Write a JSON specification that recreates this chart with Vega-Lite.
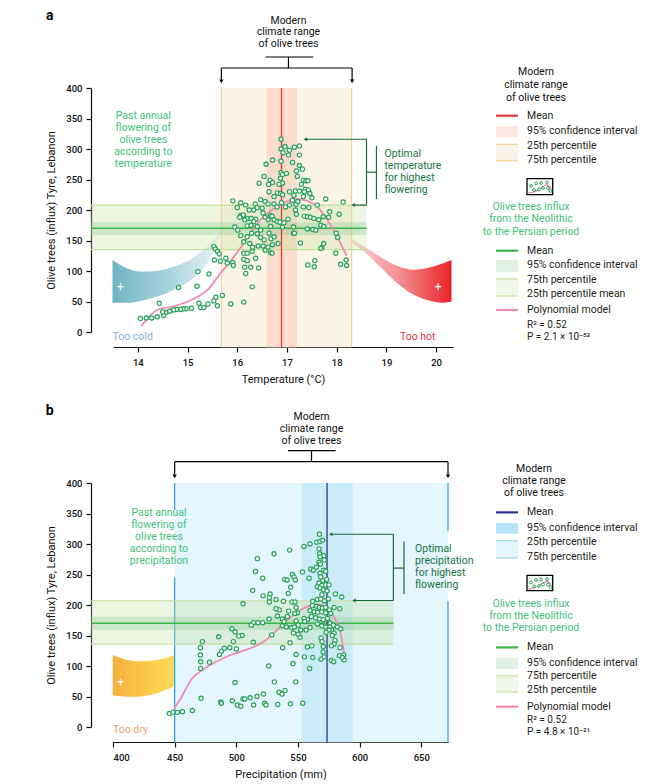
{
"$schema":"https://vega.github.io/schema/vega-lite/v6.json",
"padding":{"left":45,"top":8,"right":0,"bottom":0},
"background":"white",
"datasets":{
"ptsA":[{"x":16.88,"y":316},{"x":16.96,"y":304},{"x":16.88,"y":300},{"x":17.05,"y":298},{"x":17.15,"y":303},{"x":17.25,"y":305},{"x":16.92,"y":294},{"x":17.03,"y":290},{"x":17.25,"y":290},{"x":16.71,"y":282},{"x":16.58,"y":275},{"x":17.11,"y":278},{"x":16.88,"y":280},{"x":17.25,"y":273},{"x":17.31,"y":267},{"x":16.88,"y":261},{"x":16.91,"y":258},{"x":16.99,"y":260},{"x":17.19,"y":264},{"x":16.54,"y":255},{"x":16.66,"y":249},{"x":16.71,"y":245},{"x":16.63,"y":242},{"x":16.44,"y":244},{"x":16.87,"y":252},{"x":16.91,"y":244},{"x":16.84,"y":242},{"x":17.21,"y":255},{"x":17.33,"y":249},{"x":17.38,"y":248},{"x":17.42,"y":248},{"x":17.29,"y":242},{"x":17.37,"y":234},{"x":17.43,"y":233},{"x":17.35,"y":230},{"x":17.17,"y":231},{"x":17.25,"y":231},{"x":17.05,"y":230},{"x":16.64,"y":230},{"x":16.81,"y":228},{"x":16.74,"y":222},{"x":16.87,"y":227},{"x":16.91,"y":225},{"x":17.46,"y":227},{"x":17.5,"y":220},{"x":17.33,"y":222},{"x":17.14,"y":224},
{"x":15.91,"y":215},{"x":16.07,"y":212},{"x":16.0,"y":204},{"x":16.17,"y":208},{"x":16.24,"y":200},{"x":16.36,"y":210},{"x":16.47,"y":217},{"x":16.56,"y":214},{"x":16.62,"y":210},{"x":16.4,"y":204},{"x":16.33,"y":200},{"x":16.5,"y":203},{"x":16.74,"y":210},{"x":16.8,"y":205},{"x":16.89,"y":212},{"x":16.97,"y":205},{"x":17.05,"y":208},{"x":17.18,"y":209},{"x":17.11,"y":216},{"x":17.22,"y":214},{"x":17.33,"y":205},{"x":17.44,"y":204},{"x":17.61,"y":208},{"x":17.78,"y":218},{"x":18.13,"y":213},{"x":17.86,"y":197},{"x":18.05,"y":193},{"x":17.17,"y":200},{"x":17.19,"y":193},
{"x":16.07,"y":191},{"x":16.12,"y":192},{"x":16.05,"y":188},{"x":16.2,"y":186},{"x":16.15,"y":184},{"x":16.28,"y":186},{"x":16.37,"y":185},{"x":16.52,"y":195},{"x":16.56,"y":188},{"x":16.62,"y":184},{"x":16.67,"y":191},{"x":16.7,"y":190},{"x":16.74,"y":184},{"x":16.81,"y":181},{"x":16.86,"y":180},{"x":16.94,"y":179},{"x":17.02,"y":185},{"x":17.35,"y":190},{"x":17.41,"y":189},{"x":17.47,"y":188},{"x":17.54,"y":186},{"x":17.64,"y":184},{"x":17.73,"y":189},{"x":17.84,"y":188},{"x":17.68,"y":175},{"x":17.74,"y":173},{"x":17.52,"y":168},{"x":17.41,"y":169},{"x":17.13,"y":172},{"x":16.91,"y":172},{"x":16.67,"y":173},{"x":16.47,"y":167},{"x":16.4,"y":173},{"x":16.2,"y":174},{"x":15.95,"y":172},{"x":16.01,"y":167},{"x":16.33,"y":181},{"x":16.28,"y":175},
{"x":16.07,"y":158},{"x":16.2,"y":156},{"x":16.29,"y":162},{"x":16.4,"y":161},{"x":16.47,"y":155},{"x":16.54,"y":151},{"x":16.64,"y":162},{"x":16.68,"y":153},{"x":16.74,"y":156},{"x":16.82,"y":145},{"x":16.42,"y":141},{"x":16.52,"y":141},{"x":16.62,"y":139},{"x":16.71,"y":143},{"x":16.13,"y":148},{"x":16.25,"y":145},{"x":16.31,"y":139},{"x":17.13,"y":162},{"x":17.15,"y":162},{"x":17.27,"y":146},{"x":17.58,"y":167},{"x":17.74,"y":145},{"x":17.7,"y":138},{"x":17.68,"y":137},{"x":17.99,"y":162},{"x":18.02,"y":155},{"x":16.67,"y":130},{"x":16.7,"y":129},{"x":16.56,"y":134},{"x":16.3,"y":132},{"x":16.13,"y":129},{"x":16.2,"y":129},
{"x":15.53,"y":140},{"x":15.56,"y":136},{"x":15.6,"y":132},{"x":15.64,"y":128},{"x":15.54,"y":118},{"x":15.66,"y":116},{"x":15.77,"y":121},{"x":15.8,"y":113},{"x":15.91,"y":114},{"x":15.92,"y":109},{"x":16.13,"y":119},{"x":16.2,"y":117},{"x":16.15,"y":106},{"x":16.27,"y":106},{"x":16.37,"y":121},{"x":16.43,"y":105},{"x":16.17,"y":96},{"x":17.42,"y":110},{"x":17.56,"y":117},{"x":17.55,"y":107},{"x":17.98,"y":129},{"x":18.08,"y":111},{"x":18.19,"y":118},{"x":18.2,"y":109},
{"x":15.21,"y":99},{"x":15.43,"y":95},{"x":14.82,"y":73},{"x":15.19,"y":75},{"x":16.3,"y":74},{"x":15.7,"y":60},{"x":15.57,"y":57},{"x":15.53,"y":51},{"x":15.6,"y":43},{"x":15.87,"y":46},{"x":16.13,"y":49},{"x":15.41,"y":46},{"x":15.23,"y":47},{"x":15.26,"y":40},{"x":15.33,"y":40},{"x":15.08,"y":39},{"x":14.97,"y":38},{"x":14.91,"y":38},{"x":14.86,"y":37},{"x":14.78,"y":37},{"x":14.72,"y":36},{"x":14.64,"y":34},{"x":14.56,"y":32},{"x":14.52,"y":27},{"x":14.5,"y":33},{"x":14.43,"y":47},{"x":14.39,"y":25},{"x":14.28,"y":23},{"x":14.17,"y":23},{"x":14.05,"y":22}],
"curveA":[{"x":14.07,"y":10},{"x":14.39,"y":36},{"x":14.72,"y":42},{"x":15.06,"y":52},{"x":15.4,"y":69},{"x":15.66,"y":96},{"x":15.93,"y":123},{"x":16.2,"y":154},{"x":16.47,"y":184},{"x":16.74,"y":203},{"x":17.0,"y":214},{"x":17.2,"y":218},{"x":17.41,"y":215},{"x":17.61,"y":205},{"x":17.81,"y":184},{"x":18.01,"y":156},{"x":18.2,"y":125}],
"ptsB":[{"x":567.4,"y":316},{"x":565.2,"y":303},{"x":567.9,"y":304},{"x":570.1,"y":306},{"x":559.8,"y":300},{"x":555.0,"y":296},{"x":530.6,"y":284},{"x":543.3,"y":290},{"x":567.1,"y":292},{"x":567.6,"y":284},{"x":570.9,"y":281},{"x":567.9,"y":279},{"x":571.4,"y":274},{"x":567.1,"y":270},{"x":568.2,"y":267},{"x":564.9,"y":262},{"x":560.4,"y":259},{"x":562.5,"y":257},{"x":570.9,"y":257},{"x":567.9,"y":252},{"x":572.5,"y":255},{"x":568.5,"y":246},{"x":573.3,"y":242},{"x":570.1,"y":240},{"x":567.1,"y":236},{"x":569.3,"y":232},{"x":572.5,"y":233},{"x":575.2,"y":233},{"x":565.8,"y":230},{"x":567.9,"y":228},{"x":570.6,"y":225},{"x":573.6,"y":223},{"x":569.5,"y":217},{"x":580.4,"y":218},{"x":585.5,"y":213},{"x":517.1,"y":276},{"x":515.5,"y":255},{"x":521.4,"y":244},{"x":539.3,"y":242},{"x":541.2,"y":241},{"x":545.5,"y":250},{"x":546.8,"y":246},{"x":547.9,"y":241},{"x":553.6,"y":254},{"x":559.0,"y":244},{"x":544.1,"y":229},{"x":542.2,"y":219},{"x":513.3,"y":224},{"x":521.7,"y":215},{"x":527.4,"y":218},{"x":526.8,"y":212},{"x":532.2,"y":209},{"x":538.2,"y":206},{"x":545.2,"y":205},{"x":547.6,"y":205},{"x":526.8,"y":205},{"x":505.5,"y":202},
{"x":562.0,"y":206},{"x":565.8,"y":209},{"x":568.5,"y":210},{"x":571.4,"y":207},{"x":574.7,"y":210},{"x":561.7,"y":199},{"x":565.2,"y":198},{"x":567.4,"y":196},{"x":569.8,"y":195},{"x":572.5,"y":196},{"x":575.5,"y":192},{"x":579.3,"y":196},{"x":583.9,"y":194},{"x":559.8,"y":191},{"x":563.1,"y":189},{"x":566.0,"y":188},{"x":569.3,"y":189},{"x":572.5,"y":187},{"x":576.6,"y":186},{"x":560.9,"y":181},{"x":564.4,"y":179},{"x":567.4,"y":177},{"x":570.6,"y":176},{"x":573.9,"y":178},{"x":576.0,"y":170},{"x":578.7,"y":167},{"x":582.0,"y":164},{"x":584.7,"y":161},{"x":565.8,"y":169},{"x":569.3,"y":166},{"x":572.5,"y":164},{"x":557.7,"y":176},{"x":555.0,"y":178},{"x":549.5,"y":187},{"x":548.5,"y":196},{"x":547.4,"y":186},{"x":542.5,"y":190},{"x":541.4,"y":181},{"x":537.4,"y":177},{"x":538.7,"y":173},{"x":534.9,"y":192},{"x":532.2,"y":194},{"x":533.3,"y":182},{"x":537.4,"y":166},{"x":540.6,"y":164},{"x":526.6,"y":177},{"x":521.4,"y":171},{"x":513.9,"y":171},{"x":512.2,"y":167},{"x":517.6,"y":171},{"x":548.5,"y":174},{"x":550.1,"y":167},{"x":552.2,"y":159},{"x":544.9,"y":163},{"x":547.1,"y":164},{"x":555.5,"y":173},{"x":546.3,"y":154},{"x":551.7,"y":147},{"x":550.1,"y":152},{"x":556.6,"y":159},{"x":559.8,"y":163},{"x":575.8,"y":164},{"x":577.4,"y":159},{"x":579.3,"y":154},{"x":577.9,"y":150},{"x":580.1,"y":142},{"x":579.3,"y":136},{"x":584.1,"y":130},{"x":577.1,"y":133},{"x":575.2,"y":159},{"x":572.8,"y":155},
{"x":528.7,"y":151},{"x":504.7,"y":150},{"x":502.0,"y":149},{"x":499.0,"y":156},{"x":496.3,"y":161},{"x":485.7,"y":148},{"x":472.5,"y":140},{"x":470.9,"y":130},{"x":470.9,"y":118},{"x":471.1,"y":107},{"x":471.1,"y":96},{"x":478.2,"y":106},{"x":487.9,"y":124},{"x":486.3,"y":119},{"x":490.3,"y":129},{"x":494.7,"y":130},{"x":497.6,"y":140},{"x":500.1,"y":128},{"x":513.9,"y":139},{"x":537.6,"y":130},{"x":543.6,"y":138},{"x":548.5,"y":119},{"x":546.0,"y":104},{"x":555.2,"y":115},{"x":557.7,"y":131},{"x":561.2,"y":133},{"x":562.0,"y":114},{"x":559.5,"y":96},{"x":568.7,"y":146},{"x":569.5,"y":140},{"x":570.6,"y":132},{"x":570.4,"y":123},{"x":568.7,"y":111},{"x":571.2,"y":115},{"x":577.1,"y":109},{"x":579.0,"y":107},{"x":583.6,"y":117},{"x":587.1,"y":118},{"x":587.4,"y":110},{"x":586.0,"y":114},{"x":526.3,"y":100},
{"x":499.0,"y":73},{"x":530.9,"y":74},{"x":548.2,"y":74},{"x":471.4,"y":47},{"x":487.4,"y":41},{"x":487.9,"y":39},{"x":496.8,"y":43},{"x":500.9,"y":36},{"x":503.6,"y":34},{"x":505.5,"y":46},{"x":506.8,"y":46},{"x":511.2,"y":48},{"x":514.1,"y":36},{"x":516.8,"y":50},{"x":522.0,"y":54},{"x":523.0,"y":39},{"x":524.1,"y":36},{"x":533.6,"y":37},{"x":534.7,"y":57},{"x":537.1,"y":54},{"x":539.5,"y":60},{"x":543.9,"y":38},{"x":553.9,"y":39},{"x":445.7,"y":22},{"x":448.7,"y":24},{"x":452.2,"y":24},{"x":456.3,"y":25},{"x":464.4,"y":27}],
"curveB":[{"x":446,"y":18},{"x":455,"y":47},{"x":464,"y":79},{"x":472,"y":93},{"x":481,"y":104},{"x":493,"y":116},{"x":504,"y":124},{"x":515,"y":132},{"x":525,"y":144},{"x":536,"y":165},{"x":546,"y":183},{"x":555,"y":195},{"x":562,"y":200},{"x":568,"y":201},{"x":573,"y":195},{"x":577,"y":186},{"x":581,"y":174},{"x":585,"y":150},{"x":587.5,"y":120}]
},
"vconcat":[
{"hconcat":[
{"width":340,"height":244,
"encoding":{
"x":{"field":"x","type":"quantitative","scale":{"domain":[13.5,20.34],"nice":false,"zero":false},"axis":{"values":[14,15,16,17,18,19,20],"format":"d","offset":15,"title":"Temperature (°C)","labelPadding":5,"titlePadding":7}},
"y":{"field":"y","type":"quantitative","scale":{"domain":[0,400],"nice":false,"zero":false},"axis":{"values":[0,50,100,150,200,250,300,350,400],"format":"d","offset":22,"title":"Olive trees (influx) Tyre, Lebanon","labelPadding":4,"titlePadding":9}}},
"layer":[
{"data":{"values":[{"x":13.49,"y":118,"y2":48},{"x":13.79,"y":104,"y2":48},{"x":14.05,"y":99,"y2":51},{"x":14.39,"y":100.5,"y2":58},{"x":14.72,"y":107,"y2":69},{"x":15.06,"y":119,"y2":85},{"x":15.4,"y":140,"y2":113},{"x":15.68,"y":166,"y2":165}]},
"mark":{"type":"area","interpolate":"monotone","color":{"gradient":"linear","x1":0,"y1":0,"x2":1,"y2":0,"stops":[{"offset":0,"color":"#6fb5c4"},{"offset":0.5,"color":"#a6d2db"},{"offset":1,"color":"#ebf5f7"}]}},
"encoding":{"y2":{"field":"y2"}}},
{"data":{"values":[{"x":18.05,"y":162,"y2":160},{"x":18.15,"y":159,"y2":154},{"x":18.55,"y":140,"y2":132},{"x":18.88,"y":123,"y2":106},{"x":19.22,"y":108,"y2":80},{"x":19.55,"y":102,"y2":61},{"x":19.89,"y":106,"y2":51},{"x":20.16,"y":113,"y2":48},{"x":20.31,"y":118,"y2":50}]},
"mark":{"type":"area","interpolate":"monotone","color":{"gradient":"linear","x1":0,"y1":0,"x2":1,"y2":0,"stops":[{"offset":0,"color":"#fdeaea"},{"offset":0.55,"color":"#f28b8e"},{"offset":1,"color":"#e8232a"}]}},
"encoding":{"y2":{"field":"y2"}}},
{"data":{"values":[{"x":13.65,"y":73,"t":"+"},{"x":20.04,"y":73,"t":"+"}]},"mark":{"type":"text","color":"#ffffff","fontSize":12,"baseline":"middle"},"encoding":{"text":{"field":"t"}}},
{"data":{"values":[{"x":15.68,"x2":18.3,"y":-25,"y2":400}]},"mark":{"type":"rect","color":"#fdf4e8"},"encoding":{"x2":{"field":"x2"},"y2":{"field":"y2"}}},
{"data":{"values":[{"x":16.59,"x2":17.2,"y":-25,"y2":400}]},"mark":{"type":"rect","color":"#f9dccb"},"encoding":{"x2":{"field":"x2"},"y2":{"field":"y2"}}},
{"data":{"values":[{"x":15.68,"y":-25,"y2":400},{"x":18.3,"y":-25,"y2":400}]},"mark":{"type":"rule","color":"#f6d29b","strokeWidth":1.2},"encoding":{"y2":{"field":"y2"}}},
{"data":{"values":[{"x":13.057,"x2":18.6,"y":135,"y2":208}]},"mark":{"type":"rect","color":"#c3dd9a","opacity":0.3},"encoding":{"x2":{"field":"x2"},"y2":{"field":"y2"}}},
{"data":{"values":[{"x":13.057,"x2":18.6,"y":159,"y2":180}]},"mark":{"type":"rect","color":"#8fcb9a","opacity":0.35},"encoding":{"x2":{"field":"x2"},"y2":{"field":"y2"}}},
{"data":{"values":[{"x":13.057,"x2":18.6,"y":135},{"x":13.057,"x2":18.6,"y":208}]},"mark":{"type":"rule","color":"#c3df9c","strokeWidth":1.2},"encoding":{"x2":{"field":"x2"}}},
{"data":{"values":[{"x":13.057,"x2":18.6,"y":170}]},"mark":{"type":"rule","color":"#3db54a","strokeWidth":1.5},"encoding":{"x2":{"field":"x2"}}},
{"data":{"values":[{"x":16.89,"y":-25,"y2":400}]},"mark":{"type":"rule","color":"#e53a35","strokeWidth":1.3},"encoding":{"y2":{"field":"y2"}}},
{"data":{"name":"curveA"},"mark":{"type":"line","interpolate":"monotone","color":"#f08ab3","strokeWidth":1.8}},
{"data":{"name":"ptsA"},"mark":{"type":"point","shape":"circle","fill":"#ffffff","stroke":"#27a35a","strokeWidth":1.2,"size":18,"opacity":1}},
{"data":{"values":[{"x":14.11,"y":354,"t":"Past annual\nflowering of\nolive trees\naccording to\ntemperature"}]},"mark":{"type":"text","align":"center","baseline":"middle","lineBreak":"\n","lineHeight":12,"fontSize":10.5,"color":"#3fbf7d"},"encoding":{"text":{"field":"t"}}},
{"data":{"values":[{"x":18.96,"y":291.3,"t":"Optimal\ntemperature\nfor highest\nflowering"}]},"mark":{"type":"text","align":"left","baseline":"middle","lineBreak":"\n","lineHeight":12,"fontSize":10.5,"color":"#17733f"},"encoding":{"text":{"field":"t"}}},
{"data":{"values":[{"x":13.49,"y":-8,"t":"Too cold"}]},"mark":{"type":"text","align":"left","baseline":"middle","fontSize":10.5,"color":"#7fb0e3"},"encoding":{"text":{"field":"t"}}},
{"data":{"values":[{"x":19.63,"y":-8,"t":"Too hot"}]},"mark":{"type":"text","align":"center","baseline":"middle","fontSize":10.5,"color":"#ec3040"},"encoding":{"text":{"field":"t"}}},
{"data":{"values":[{"x":17.03,"y":510.3,"t":"Modern\nclimate range\nof olive trees"}]},"mark":{"type":"text","align":"center","baseline":"middle","lineBreak":"\n","lineHeight":11.7,"fontSize":10.5,"color":"#111111"},"encoding":{"text":{"field":"t"}}},
{"data":{"values":[{"x":12.15,"y":512,"t":"a"}]},"mark":{"type":"text","align":"left","baseline":"alphabetic","fontSize":14,"fontWeight":"bold","color":"#000000"},"encoding":{"text":{"field":"t"}}},
{"data":{"values":[{"x":15.68,"x2":18.31,"y":432.8},{"x":16.57,"x2":17.53,"y":450.8}]},"mark":{"type":"rule","color":"#000000","strokeWidth":1.2},"encoding":{"x2":{"field":"x2"}}},
{"data":{"values":[{"x":15.68,"y":432.8,"y2":413},{"x":18.31,"y":432.8,"y2":413},{"x":17.03,"y":450.8,"y2":432.8}]},"mark":{"type":"rule","color":"#000000","strokeWidth":1.2},"encoding":{"y2":{"field":"y2"}}},
{"data":{"values":[{"x":15.68,"y":411},{"x":18.31,"y":411}]},"mark":{"type":"point","shape":"triangle-down","filled":true,"color":"#000000","size":18,"opacity":1}},
{"data":{"values":[{"x":18.6,"x2":18.8,"y":262},{"x":17.4,"x2":18.6,"y":316},{"x":18.36,"x2":18.6,"y":208}]},"mark":{"type":"rule","color":"#17693a","strokeWidth":1.2},"encoding":{"x2":{"field":"x2"}}},
{"data":{"values":[{"x":18.8,"y":305,"y2":218},{"x":18.6,"y":316,"y2":208}]},"mark":{"type":"rule","color":"#17693a","strokeWidth":1.2},"encoding":{"y2":{"field":"y2"}}},
{"data":{"values":[{"x":17.37,"y":316},{"x":18.33,"y":208}]},"mark":{"type":"point","shape":"triangle-left","filled":true,"color":"#17693a","size":16,"opacity":1}}
]},
{"width":150,"height":244,
"encoding":{"x":{"field":"x","type":"quantitative","scale":{"domain":[0,150],"nice":false,"zero":false},"axis":null},"y":{"field":"y","type":"quantitative","scale":{"domain":[0,244],"reverse":true,"nice":false,"zero":false},"axis":null}},
"layer":[
{"data":{"values":[{"x":0,"x2":22,"y":38,"y2":49.3}]},"mark":{"type":"rect","color":"#fbe6e1"},"encoding":{"x2":{"field":"x2"},"y2":{"field":"y2"}}},
{"data":{"values":[{"x":0,"x2":22,"y":56.3,"y2":72.7}]},"mark":{"type":"rect","color":"#fdf4e8"},"encoding":{"x2":{"field":"x2"},"y2":{"field":"y2"}}},
{"data":{"values":[{"x":0,"x2":22,"y":56.3},{"x":0,"x2":22,"y":72.7}]},"mark":{"type":"rule","color":"#f6d29b","strokeWidth":1.2},"encoding":{"x2":{"field":"x2"}}},
{"data":{"values":[{"x":0,"x2":22,"y":27.7}]},"mark":{"type":"rule","color":"#e53a35","strokeWidth":2.2},"encoding":{"x2":{"field":"x2"}}},
{"data":{"values":[{"x":0,"x2":22,"y":172,"y2":184.3}]},"mark":{"type":"rect","color":"#e2f1e5"},"encoding":{"x2":{"field":"x2"},"y2":{"field":"y2"}}},
{"data":{"values":[{"x":0,"x2":22,"y":191,"y2":208}]},"mark":{"type":"rect","color":"#f1f7e8"},"encoding":{"x2":{"field":"x2"},"y2":{"field":"y2"}}},
{"data":{"values":[{"x":0,"x2":22,"y":191},{"x":0,"x2":22,"y":208}]},"mark":{"type":"rule","color":"#c8e2a2","strokeWidth":1.2},"encoding":{"x2":{"field":"x2"}}},
{"data":{"values":[{"x":0,"x2":22,"y":162.7}]},"mark":{"type":"rule","color":"#3db54a","strokeWidth":2.2},"encoding":{"x2":{"field":"x2"}}},
{"data":{"values":[{"x":0,"x2":22,"y":222}]},"mark":{"type":"rule","color":"#f08ab3","strokeWidth":2.2},"encoding":{"x2":{"field":"x2"}}},
{"data":{"values":[{"x":31,"x2":56.7,"y":90.7,"y2":106.7}]},"mark":{"type":"rect","fill":"#ffffff","stroke":"#000000","strokeWidth":1.3},"encoding":{"x2":{"field":"x2"},"y2":{"field":"y2"}}},
{"data":{"values":[{"x":32.5,"y":105},{"x":38,"y":104},{"x":43,"y":101},{"x":48,"y":98},{"x":51,"y":97},{"x":54,"y":99},{"x":55.5,"y":103}]},"mark":{"type":"line","interpolate":"monotone","color":"#f08ab3","strokeWidth":1.3}},
{"data":{"values":[{"x":35,"y":98},{"x":40,"y":95.5},{"x":45,"y":95},{"x":51,"y":94.5},{"x":38,"y":102},{"x":43,"y":101.5},{"x":47,"y":100},{"x":52,"y":100},{"x":54.5,"y":103}]},"mark":{"type":"point","shape":"circle","fill":"#ffffff","stroke":"#27a35a","strokeWidth":1,"size":8,"opacity":1}},
{"data":{"values":[{"x":31,"y":27.7,"t":"Mean"},{"x":31,"y":43.3,"t":"95% confidence interval"},{"x":31,"y":57.7,"t":"25th percentile"},{"x":31,"y":72,"t":"75th percentile"},{"x":31,"y":162.7,"t":"Mean"},{"x":31,"y":177,"t":"95% confidence interval"},{"x":31,"y":191.7,"t":"75th percentile"},{"x":31,"y":206.3,"t":"25th percentile mean"},{"x":31,"y":222,"t":"Polynomial model"}]},"mark":{"type":"text","align":"left","baseline":"middle","fontSize":10.5,"color":"#231f20"},"encoding":{"text":{"field":"t"}}},
{"data":{"values":[{"x":31,"y":236.5,"t":"R² = 0.52"},{"x":31,"y":248.5,"t":"P = 2.1 × 10⁻⁵²"}]},"mark":{"type":"text","align":"left","baseline":"middle","fontSize":10,"color":"#231f20"},"encoding":{"text":{"field":"t"}}},
{"data":{"values":[{"x":40,"y":-16.3,"t":"Modern\nclimate range\nof olive trees"}]},"mark":{"type":"text","align":"center","baseline":"middle","lineBreak":"\n","lineHeight":13,"fontSize":10.5,"color":"#111111"},"encoding":{"text":{"field":"t"}}},
{"data":{"values":[{"x":35,"y":118.7,"t":"Olive trees influx\nfrom the Neolithic\nto the Persian period"}]},"mark":{"type":"text","align":"center","baseline":"middle","lineBreak":"\n","lineHeight":12.5,"fontSize":10.5,"color":"#3fbf7d"},"encoding":{"text":{"field":"t"}}}
]}
],"spacing":43,"bounds":"flush"},
{"hconcat":[
{"width":335,"height":244,
"encoding":{
"x":{"field":"x","type":"quantitative","scale":{"domain":[400,671.7],"nice":false,"zero":false},"axis":{"values":[400,450,500,550,600,650],"format":"d","offset":15,"title":"Precipitation (mm)","labelPadding":5,"titlePadding":7}},
"y":{"field":"y","type":"quantitative","scale":{"domain":[0,400],"nice":false,"zero":false},"axis":{"values":[0,50,100,150,200,250,300,350,400],"format":"d","offset":22,"title":"Olive trees (influx) Tyre, Lebanon","labelPadding":4,"titlePadding":9}}},
"layer":[
{"data":{"values":[{"x":399.8,"y":118,"y2":52},{"x":411.7,"y":110,"y2":49.6},{"x":422.5,"y":107.6,"y2":50},{"x":436,"y":110,"y2":55.6},{"x":449.5,"y":118,"y2":66.6},{"x":463,"y":132,"y2":83},{"x":476.6,"y":148,"y2":110},{"x":488.7,"y":170,"y2":168}]},
"mark":{"type":"area","interpolate":"monotone","color":{"gradient":"linear","x1":0,"y1":0,"x2":1,"y2":0,"stops":[{"offset":0,"color":"#f4b040"},{"offset":0.45,"color":"#fdd44e"},{"offset":1,"color":"#fbeec0"}]}},
"encoding":{"y2":{"field":"y2"}}},
{"data":{"values":[{"x":406.2,"y":73,"t":"+"}]},"mark":{"type":"text","color":"#ffffff","fontSize":12,"baseline":"middle"},"encoding":{"text":{"field":"t"}}},
{"data":{"values":[{"x":450,"x2":671.7,"y":-25,"y2":400}]},"mark":{"type":"rect","color":"#e4f5fd"},"encoding":{"x2":{"field":"x2"},"y2":{"field":"y2"}}},
{"data":{"values":[{"x":553.1,"x2":594.4,"y":-25,"y2":400}]},"mark":{"type":"rect","color":"#caecf9"},"encoding":{"x2":{"field":"x2"},"y2":{"field":"y2"}}},
{"data":{"values":[{"x":450,"y":400,"y2":356},{"x":450,"y":245,"y2":-25},{"x":671.7,"y":400,"y2":321},{"x":671.7,"y":206,"y2":-25}]},"mark":{"type":"rule","color":"#27aae1","strokeWidth":1.3},"encoding":{"y2":{"field":"y2"}}},
{"data":{"values":[{"x":382.2,"x2":627.4,"y":136,"y2":207}]},"mark":{"type":"rect","color":"#c3dd9a","opacity":0.3},"encoding":{"x2":{"field":"x2"},"y2":{"field":"y2"}}},
{"data":{"values":[{"x":382.2,"x2":627.4,"y":159,"y2":180.6}]},"mark":{"type":"rect","color":"#8fcb9a","opacity":0.35},"encoding":{"x2":{"field":"x2"},"y2":{"field":"y2"}}},
{"data":{"values":[{"x":382.2,"x2":627.4,"y":136},{"x":382.2,"x2":627.4,"y":207}]},"mark":{"type":"rule","color":"#c3df9c","strokeWidth":1.2},"encoding":{"x2":{"field":"x2"}}},
{"data":{"values":[{"x":382.2,"x2":627.4,"y":170}]},"mark":{"type":"rule","color":"#3db54a","strokeWidth":1.5},"encoding":{"x2":{"field":"x2"}}},
{"data":{"values":[{"x":573.6,"y":-25,"y2":400}]},"mark":{"type":"rule","color":"#2e3192","strokeWidth":1.3},"encoding":{"y2":{"field":"y2"}}},
{"data":{"name":"curveB"},"mark":{"type":"line","interpolate":"monotone","color":"#f08ab3","strokeWidth":1.8}},
{"data":{"name":"ptsB"},"mark":{"type":"point","shape":"circle","fill":"#ffffff","stroke":"#27a35a","strokeWidth":1.2,"size":18,"opacity":1}},
{"data":{"values":[{"x":437.3,"y":350.9,"t":"Past annual\nflowering of\nolive trees\naccording to\nprecipitation"}]},"mark":{"type":"text","align":"center","baseline":"middle","lineBreak":"\n","lineHeight":12,"fontSize":10.5,"color":"#3fbf7d"},"encoding":{"text":{"field":"t"}}},
{"data":{"values":[{"x":645,"y":292.3,"t":"Optimal\nprecipitation\nfor highest\nflowering"}]},"mark":{"type":"text","align":"left","baseline":"middle","lineBreak":"\n","lineHeight":12,"fontSize":10.5,"color":"#17733f"},"encoding":{"text":{"field":"t"}}},
{"data":{"values":[{"x":400,"y":-5,"t":"Too dry"}]},"mark":{"type":"text","align":"left","baseline":"middle","fontSize":10.5,"color":"#f5a07c"},"encoding":{"text":{"field":"t"}}},
{"data":{"values":[{"x":561,"y":508.5,"t":"Modern\nclimate range\nof olive trees"}]},"mark":{"type":"text","align":"center","baseline":"middle","lineBreak":"\n","lineHeight":12,"fontSize":10.5,"color":"#111111"},"encoding":{"text":{"field":"t"}}},
{"data":{"values":[{"x":345.4,"y":510.7,"t":"b"}]},"mark":{"type":"text","align":"left","baseline":"alphabetic","fontSize":14,"fontWeight":"bold","color":"#000000"},"encoding":{"text":{"field":"t"}}},
{"data":{"values":[{"x":450,"x2":671.7,"y":435},{"x":541.9,"x2":580.4,"y":453}]},"mark":{"type":"rule","color":"#000000","strokeWidth":1.2},"encoding":{"x2":{"field":"x2"}}},
{"data":{"values":[{"x":450,"y":435,"y2":414},{"x":671.7,"y":435,"y2":414},{"x":561,"y":453,"y2":435}]},"mark":{"type":"rule","color":"#000000","strokeWidth":1.2},"encoding":{"y2":{"field":"y2"}}},
{"data":{"values":[{"x":450,"y":411},{"x":671.7,"y":411}]},"mark":{"type":"point","shape":"triangle-down","filled":true,"color":"#000000","size":18,"opacity":1}},
{"data":{"values":[{"x":627.4,"x2":636,"y":260.5},{"x":578,"x2":627.4,"y":316},{"x":597,"x2":627.4,"y":207.4}]},"mark":{"type":"rule","color":"#17693a","strokeWidth":1.2},"encoding":{"x2":{"field":"x2"}}},
{"data":{"values":[{"x":636,"y":304,"y2":218},{"x":627.4,"y":316,"y2":207.4}]},"mark":{"type":"rule","color":"#17693a","strokeWidth":1.2},"encoding":{"y2":{"field":"y2"}}},
{"data":{"values":[{"x":576.6,"y":316},{"x":595.5,"y":207.4}]},"mark":{"type":"point","shape":"triangle-left","filled":true,"color":"#17693a","size":16,"opacity":1}}
]},
{"width":150,"height":244,
"encoding":{"x":{"field":"x","type":"quantitative","scale":{"domain":[0,150],"nice":false,"zero":false},"axis":null},"y":{"field":"y","type":"quantitative","scale":{"domain":[0,244],"reverse":true,"nice":false,"zero":false},"axis":null}},
"layer":[
{"data":{"values":[{"x":0,"x2":22,"y":40,"y2":50.7}]},"mark":{"type":"rect","color":"#b6e3f7"},"encoding":{"x2":{"field":"x2"},"y2":{"field":"y2"}}},
{"data":{"values":[{"x":0,"x2":22,"y":57.7,"y2":75}]},"mark":{"type":"rect","color":"#e4f5fd"},"encoding":{"x2":{"field":"x2"},"y2":{"field":"y2"}}},
{"data":{"values":[{"x":0,"x2":22,"y":57.7},{"x":0,"x2":22,"y":75}]},"mark":{"type":"rule","color":"#9ad6f1","strokeWidth":1.2},"encoding":{"x2":{"field":"x2"}}},
{"data":{"values":[{"x":0,"x2":22,"y":29.4}]},"mark":{"type":"rule","color":"#2e3192","strokeWidth":2.2},"encoding":{"x2":{"field":"x2"}}},
{"data":{"values":[{"x":0,"x2":22,"y":175,"y2":186}]},"mark":{"type":"rect","color":"#e2f1e5"},"encoding":{"x2":{"field":"x2"},"y2":{"field":"y2"}}},
{"data":{"values":[{"x":0,"x2":22,"y":192.7,"y2":209}]},"mark":{"type":"rect","color":"#f1f7e8"},"encoding":{"x2":{"field":"x2"},"y2":{"field":"y2"}}},
{"data":{"values":[{"x":0,"x2":22,"y":192.7},{"x":0,"x2":22,"y":209}]},"mark":{"type":"rule","color":"#c8e2a2","strokeWidth":1.2},"encoding":{"x2":{"field":"x2"}}},
{"data":{"values":[{"x":0,"x2":22,"y":164.4}]},"mark":{"type":"rule","color":"#3db54a","strokeWidth":2.2},"encoding":{"x2":{"field":"x2"}}},
{"data":{"values":[{"x":0,"x2":22,"y":223.7}]},"mark":{"type":"rule","color":"#f08ab3","strokeWidth":2.2},"encoding":{"x2":{"field":"x2"}}},
{"data":{"values":[{"x":31,"x2":56.7,"y":92.4,"y2":107.7}]},"mark":{"type":"rect","fill":"#ffffff","stroke":"#000000","strokeWidth":1.3},"encoding":{"x2":{"field":"x2"},"y2":{"field":"y2"}}},
{"data":{"values":[{"x":32.5,"y":106},{"x":38,"y":105},{"x":43,"y":102.5},{"x":48,"y":99.5},{"x":51,"y":98.5},{"x":54,"y":100.5},{"x":55.5,"y":104}]},"mark":{"type":"line","interpolate":"monotone","color":"#f08ab3","strokeWidth":1.3}},
{"data":{"values":[{"x":35,"y":99.5},{"x":40,"y":97},{"x":45,"y":96.5},{"x":51,"y":96},{"x":38,"y":103.5},{"x":43,"y":103},{"x":47,"y":101.5},{"x":52,"y":101.5},{"x":54.5,"y":104.5}]},"mark":{"type":"point","shape":"circle","fill":"#ffffff","stroke":"#27a35a","strokeWidth":1,"size":8,"opacity":1}},
{"data":{"values":[{"x":31,"y":29.4,"t":"Mean"},{"x":31,"y":45,"t":"95% confidence interval"},{"x":31,"y":59.4,"t":"25th percentile"},{"x":31,"y":74,"t":"75th percentile"},{"x":31,"y":164.4,"t":"Mean"},{"x":31,"y":180,"t":"95% confidence interval"},{"x":31,"y":193.4,"t":"75th percentile"},{"x":31,"y":207.4,"t":"25th percentile"},{"x":31,"y":223.7,"t":"Polynomial model"}]},"mark":{"type":"text","align":"left","baseline":"middle","fontSize":10.5,"color":"#231f20"},"encoding":{"text":{"field":"t"}}},
{"data":{"values":[{"x":31,"y":236.5,"t":"R² = 0.52"},{"x":31,"y":248.5,"t":"P = 4.8 × 10⁻²¹"}]},"mark":{"type":"text","align":"left","baseline":"middle","fontSize":10,"color":"#231f20"},"encoding":{"text":{"field":"t"}}},
{"data":{"values":[{"x":38,"y":-14.3,"t":"Modern\nclimate range\nof olive trees"}]},"mark":{"type":"text","align":"center","baseline":"middle","lineBreak":"\n","lineHeight":12,"fontSize":10.5,"color":"#111111"},"encoding":{"text":{"field":"t"}}},
{"data":{"values":[{"x":35,"y":121,"t":"Olive trees influx\nfrom the Neolithic\nto the Persian period"}]},"mark":{"type":"text","align":"center","baseline":"middle","lineBreak":"\n","lineHeight":12,"fontSize":10.5,"color":"#3fbf7d"},"encoding":{"text":{"field":"t"}}}
]}
],"spacing":48,"bounds":"flush"}
],
"spacing":395,
"bounds":"flush",
"config":{"view":{"stroke":null},"font":"Roboto","axis":{"grid":false,"domainColor":"#111111","tickColor":"#111111","labelColor":"#111111","titleColor":"#111111","labelFontSize":9.5,"labelFontWeight":500,"titleFontSize":11,"titleFontWeight":"normal","tickSize":5,"domainWidth":1.2,"tickWidth":1.2}}
}
